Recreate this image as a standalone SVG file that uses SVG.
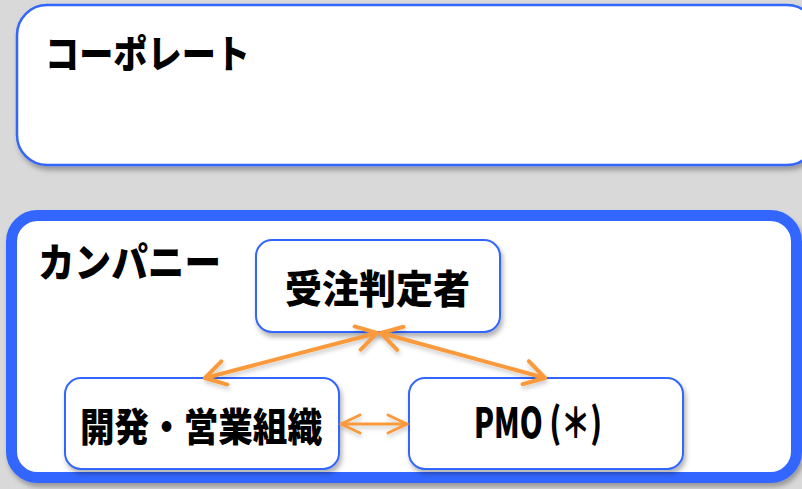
<svg xmlns="http://www.w3.org/2000/svg" width="802" height="489" viewBox="0 0 802 489">
  <defs>
    <style>
      .label { font-family: "Noto Sans CJK JP", "Liberation Sans", sans-serif; font-weight: 900; fill: #000; }
      .node { fill: #fff; stroke: #3366ff; stroke-width: 2; }
      .conn { stroke: #fa9a3c; fill: none; stroke-linecap: round; }
    </style>
    <filter id="shadow" x="-10%" y="-10%" width="120%" height="130%">
      <feDropShadow dx="2" dy="4" stdDeviation="2.5" flood-color="#000" flood-opacity="0.3"/>
    </filter>
    <filter id="lshadow" x="-10%" y="-30%" width="120%" height="160%">
      <feDropShadow dx="1" dy="3" stdDeviation="2" flood-color="#000" flood-opacity="0.2"/>
    </filter>
    <marker id="arrowBig" viewBox="0 0 26 28" refX="23" refY="14" markerWidth="26" markerHeight="28" markerUnits="userSpaceOnUse" orient="auto-start-reverse">
      <path d="M3,2 L23,14 L3,26" fill="none" stroke="#fa9a3c" stroke-width="4" stroke-linecap="round" stroke-linejoin="round"/>
    </marker>
    <marker id="arrowSmall" viewBox="0 0 24 22" refX="21" refY="11" markerWidth="24" markerHeight="22" markerUnits="userSpaceOnUse" orient="auto-start-reverse">
      <path d="M2,2 L21,11 L2,20" fill="none" stroke="#fa9a3c" stroke-width="3" stroke-linecap="round" stroke-linejoin="round"/>
    </marker>
  </defs>

  <rect x="0" y="0" width="802" height="489" fill="#d9d9d9"/>

  <g id="corporate">
    <rect x="17" y="5" width="800" height="160" rx="30" ry="30" fill="#fff" stroke="#3366ff" stroke-width="2.5" filter="url(#shadow)"/>
    <text class="label" x="45" y="68" font-size="39" textLength="205" lengthAdjust="spacingAndGlyphs">コーポレート</text>
  </g>

  <g id="company">
    <rect x="11.5" y="215.5" width="785" height="262" rx="26" ry="26" fill="#fff" stroke="#3366ff" stroke-width="11" filter="url(#shadow)"/>
    <text class="label" x="38" y="277" font-size="40" textLength="183" lengthAdjust="spacingAndGlyphs">カンパニー</text>
  </g>

  <g id="judge">
    <rect class="node" x="256" y="240" width="244" height="92" rx="16" ry="16" filter="url(#shadow)"/>
    <text class="label" x="285" y="303" font-size="39" textLength="185" lengthAdjust="spacingAndGlyphs">受注判定者</text>
  </g>

  <g id="devsales">
    <rect class="node" x="65" y="378" width="274" height="91" rx="16" ry="16" filter="url(#shadow)"/>
    <text class="label" x="80" y="441" font-size="39" textLength="242" lengthAdjust="spacingAndGlyphs">開発・営業組織</text>
  </g>

  <g id="pmo">
    <rect class="node" x="409" y="378" width="274" height="91" rx="16" ry="16" filter="url(#shadow)"/>
    <text class="label" x="474" y="438" font-size="41" textLength="128" lengthAdjust="spacingAndGlyphs">PMO (＊)</text>
  </g>

  <g id="connectors" filter="url(#lshadow)">
    <line class="conn" x1="377" y1="333" x2="205" y2="378" stroke-width="4" marker-start="url(#arrowBig)" marker-end="url(#arrowBig)"/>
    <line class="conn" x1="381" y1="333" x2="545" y2="378" stroke-width="4" marker-start="url(#arrowBig)" marker-end="url(#arrowBig)"/>
    <line class="conn" x1="341" y1="424" x2="407" y2="424" stroke-width="3" marker-start="url(#arrowSmall)" marker-end="url(#arrowSmall)"/>
  </g>
</svg>
